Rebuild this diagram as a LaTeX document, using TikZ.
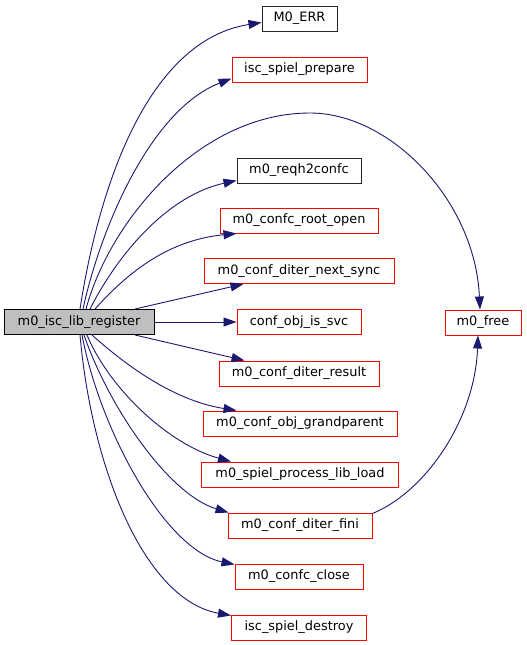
\documentclass[tikz,border=0pt]{standalone}
\usepackage{fontspec}
\setmainfont{DejaVu Sans}
\usetikzlibrary{arrows.meta}
\definecolor{edgeblue}{HTML}{191970}
\definecolor{mainfill}{HTML}{BFBFBF}
\tikzset{
  fn/.style={draw=red, line width=1pt, minimum height=25pt, inner sep=0pt, font=\fontsize{12.9}{14}\selectfont},
  fnblack/.style={fn, draw=black!85},
  mainfn/.style={fn, draw=black, fill=mainfill},
  call/.style={draw=edgeblue, line width=0.9pt, -{Triangle[length=13pt,width=9pt]}}
}
\begin{document}
\begin{tikzpicture}[x=1pt,y=-1pt]
\useasboundingbox (0,0) rectangle (527,645);
\node[mainfn, minimum width=150pt] (main) at (79,322) {m0\_isc\_lib\_register};
\node[fnblack, minimum width=75pt] (err) at (299.5,18.5) {M0\_ERR};
\node[fn, minimum width=135pt] (prep) at (299.5,69.5) {isc\_spiel\_prepare};
\node[fnblack, minimum width=124pt] (reqh) at (299,170.5) {m0\_reqh2confc};
\node[fn, minimum width=158pt] (root) at (299,220.5) {m0\_confc\_root\_open};
\node[fn, minimum width=190pt] (next) at (299,271) {m0\_conf\_diter\_next\_sync};
\node[fn, minimum width=124pt] (svc) at (299,322) {conf\_obj\_is\_svc};
\node[fn, minimum width=160pt] (res) at (299,373.5) {m0\_conf\_diter\_result};
\node[fn, minimum width=194pt] (grand) at (300,423.5) {m0\_conf\_obj\_grandparent};
\node[fn, minimum width=197pt] (lib) at (300,474.5) {m0\_spiel\_process\_lib\_load};
\node[fn, minimum width=144pt] (fini) at (300,525.5) {m0\_conf\_diter\_fini};
\node[fn, minimum width=128pt] (close) at (299,576.5) {m0\_confc\_close};
\node[fn, minimum width=135pt] (destroy) at (299,627.5) {isc\_spiel\_destroy};
\node[fn, minimum width=76pt] (free) at (483,322.5) {m0\_free};

\draw[call] ([xshift=1pt]main.north) .. controls (100,180) and (150,40) .. ([yshift=-4pt]err.west);
\draw[call] ([xshift=4pt]main.north) .. controls (100,230) and (150,110) .. ([yshift=4pt]prep.south west);
\draw[call] ([xshift=7pt]main.north) .. controls (110,220) and (200,113) .. (310,113)
   .. controls (390,113) and (475,200) .. ([xshift=-3pt]free.north);
\draw[call] ([xshift=11pt]main.north) .. controls (120,250) and (170,195) .. ([yshift=3pt]reqh.south west);
\draw[call] ([xshift=16pt]main.north) .. controls (130,270) and (170,240) .. ([xshift=17pt]root.south west);
\draw[call] ([xshift=56pt]main.north) -- ([xshift=40pt]next.south west);
\draw[call] (main.east) -- (svc.west);
\draw[call] ([xshift=56pt]main.south) -- ([xshift=26pt]res.north west);
\draw[call] ([xshift=13pt]main.south) .. controls (120,360) and (170,400) .. ([xshift=34pt]grand.north west);
\draw[call] ([xshift=8pt]main.south) .. controls (110,390) and (170,445) .. ([xshift=30pt]lib.north west);
\draw[call] ([xshift=5pt]main.south) .. controls (110,410) and (170,495) .. ([xshift=1pt]fini.north west);
\draw[call] ([xshift=3pt]main.south) .. controls (100,430) and (165,550) .. ([yshift=-1pt]close.north west);
\draw[call] ([xshift=1pt]main.south) .. controls (92,470) and (145,600) .. ([yshift=-1pt]destroy.north west);
\draw[call] ([yshift=-1pt]fini.north east) .. controls (425,492) and (475,420) .. ([xshift=-5pt]free.south);
\end{tikzpicture}
\end{document}
